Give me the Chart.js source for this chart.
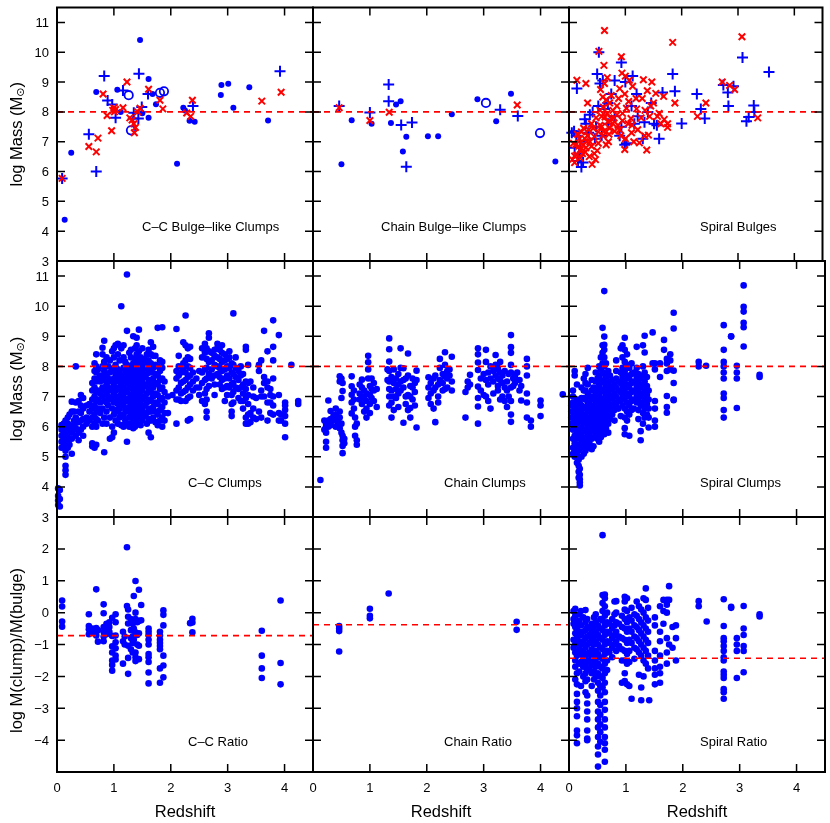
<!DOCTYPE html>
<html lang="en">
<head>
  <meta charset="UTF-8" />
  <title>Clump and bulge masses vs redshift</title>
  <script src="https://cdn.jsdelivr.net/npm/chart.js"></script>
  <style>
    body { margin: 0; background: #fff; }
    #wrap { position: relative; width: 830px; height: 823px; }
    #wrap canvas { position: absolute; left: 0; top: 0; }
  </style>
</head>
<body>
<div id="wrap"></div>
<script>
  // ---- data: [redshift, log value] pairs, or [redshift, [values...]] per galaxy ----
  const xTicks = [0, 1, 2, 3, 4];
  const massTicks = [3, 4, 5, 6, 7, 8, 9, 10, 11];
  const ratioTicks = [-4, -3, -2, -1, 0, 1, 2];
  const refLevels = [[8, 8, 8], [8, 8, 8], [-0.72, -0.38, -1.43]];

  const ccBulgeDots = [[0.135,4.38],[0.25,6.63],[0.69,8.67],[1.06,8.74],[1.12,8.0],[1.46,10.41],[1.61,9.1],[1.61,7.8],
    [1.74,8.26],[1.68,8.6],[1.5,7.95],[2.11,6.26],[2.22,8.14],[2.25,8.05],[2.33,7.7],[2.42,7.67],[2.88,8.57],
    [2.89,8.9],[3.01,8.94],[3.1,8.14],[3.38,8.83],[3.71,7.71]];
  const ccBulgePlus = [[0.09,5.77],[0.56,7.25],[0.69,6.0],[0.83,9.2],[0.89,8.38],[0.97,8.25],[1.03,7.8],[1.16,8.72],
    [1.34,7.78],[1.35,7.97],[1.44,9.28],[1.43,7.78],[1.49,8.16],[1.6,8.6],[2.39,8.2],[3.92,9.36]];
  const ccBulgeCross = [[0.09,5.77],[0.56,6.84],[0.69,6.66],[0.72,7.12],[0.81,8.6],[0.88,7.88],[0.96,7.37],[1.0,8.14],
    [1.01,8.0],[0.98,8.05],[1.03,8.08],[1.16,8.14],[1.23,9.0],[1.28,7.8],[1.32,7.73],[1.35,7.6],[1.36,7.3],
    [1.38,7.48],[1.42,8.0],[1.46,8.12],[1.61,8.76],[1.81,8.39],[1.86,8.1],[2.28,7.96],[2.35,7.85],[2.38,8.39],
    [3.6,8.36],[3.94,8.66]];
  const ccBulgeRing = [[1.26,8.56],[1.3,7.38],[1.81,8.64],[1.88,8.69]];

  const chainBulgeDots = [[0.5,6.24],[0.68,7.72],[1.03,7.6],[1.37,7.63],[1.46,8.25],[1.54,8.36],[1.64,7.17],[1.58,6.67],
    [2.02,7.18],[2.2,7.18],[2.44,7.92],[2.89,8.42],[3.22,7.69],[3.48,8.61],[4.26,6.34]];
  const chainBulgePlus = [[0.46,8.2],[1.0,7.98],[1.33,8.92],[1.33,8.36],[1.55,7.56],[1.74,7.64],[1.64,6.16],[3.29,8.07],[3.6,7.86]];
  const chainBulgeCross = [[0.46,8.14],[1.0,7.71],[1.34,7.99],[3.59,8.23]];
  const chainBulgeRing = [[3.04,8.3],[3.99,7.29]];

  const spiralBulgeCross = [[0.63,10.73],[0.53,10.03],[1.84,10.33],[3.07,10.52],[0.93,9.85],[0.62,9.56],[0.14,9.06],[0.3,8.95],
    [0.94,9.3],[1.0,9.2],[1.07,9.06],[1.13,8.86],[1.32,9.08],[1.47,9.0],[1.39,8.71],[1.54,8.62],[1.68,8.52],[1.5,8.3],
    [1.88,8.3],[2.72,9.0],[2.85,8.89],[2.94,8.75],[2.43,8.3],[3.35,7.8],[2.28,7.85],[0.33,8.3],[0.1,6.52],[0.2,6.73],
    [0.25,6.9],[0.29,6.65],[0.17,6.85],[0.41,6.24],[0.47,6.4],[0.31,7.0],[0.52,6.95],[0.66,6.9],[0.71,7.25],[0.81,7.35],
    [0.99,6.74],[1.25,6.96],[1.38,6.72],[1.34,7.2],[1.41,7.22],[1.75,7.48],[1.63,7.6],[1.05,7.6],[1.11,7.3],[1.22,7.4],
    [0.87,7.55],[0.75,7.77],[0.61,8.16],[0.55,8.05],[0.64,7.83],[0.69,7.67],[0.58,7.5],[0.52,7.33],[0.45,7.17],[0.37,7.0],
    [0.28,7.11],[0.22,7.33],[1.02,8.12],[1.1,7.78],[1.28,7.8],[1.43,7.85],[1.57,7.85],[1.69,7.75],[1.75,7.6],[1.19,8.45],
    [0.99,8.6],[0.9,8.78],[0.6,8.5],[0.66,8.4],[0.56,8.75],[0.63,8.95],[0.68,9.15],[0.78,8.05],[0.85,8.2],[0.95,7.95],
    [1.2,8.1],[1.35,8.05],[0.4,7.6],[0.35,7.4],[0.18,7.1],[0.12,6.9],[0.48,7.8],[0.72,8.3],[0.8,7.8],[0.9,7.4],[1.0,7.1],
    [1.15,7.0],[0.7,7.0],[0.6,7.2],[0.45,6.6],[0.36,6.5],[0.08,6.95],[1.6,7.95],[1.3,8.45],[1.45,8.2],[1.06,8.35],
    [0.88,8.45],[0.75,8.55],[0.06,6.4],[0.1,6.3],[0.14,6.55],[0.2,6.45],[0.24,6.6],[0.3,6.8],[0.15,7.25],[0.26,7.45],
    [0.33,7.2],[0.4,6.85],[0.5,6.7],[0.55,7.55],[0.62,7.35],[0.68,7.95],[0.78,7.6],[0.85,7.9],[0.95,7.7],[0.92,7.2],
    [0.43,7.45],[0.58,7.85],[0.72,7.45],[1.12,7.55]];
  const spiralBulgePlus = [[0.53,10.0],[0.93,9.66],[3.08,9.82],[3.55,9.34],[1.84,9.27],[0.5,9.27],[0.6,9.05],[0.81,9.05],
    [1.13,9.2],[1.0,9.0],[0.14,8.78],[0.55,8.95],[1.88,8.69],[1.66,8.65],[2.27,8.6],[2.74,8.9],[2.92,8.86],[2.82,8.65],
    [2.83,8.2],[3.28,8.21],[3.29,8.0],[3.19,7.83],[3.15,7.69],[2.41,7.78],[2.34,8.1],[2.0,7.61],[1.6,7.1],[1.51,7.6],
    [1.56,7.55],[1.02,6.95],[0.99,6.9],[0.22,6.15],[0.16,6.35],[0.09,7.35],[0.13,7.2],[0.28,7.75],[0.37,7.9],[0.52,8.2],
    [0.63,8.1],[0.69,8.3],[0.81,7.85],[0.93,7.5],[1.11,8.2],[1.22,7.85],[1.34,7.65],[1.46,8.3],[1.31,7.1],[0.46,7.1],
    [0.58,7.2],[0.9,7.2],[1.16,7.6],[0.2,7.0],[0.35,7.3],[0.75,8.6],[1.2,8.6],[0.42,8.0],[0.7,7.6],[1.4,8.0],
    [0.05,7.3],[0.1,6.8],[0.18,6.6],[0.25,6.3],[0.3,7.6],[0.48,7.5]];

  const ccClumps = [
    [0.02,[3.4,3.55,3.7,3.95]],[0.05,[3.35,3.6,3.9]],[0.08,[5.3,5.5,5.7,5.9,6.05]],[0.12,[5.35,5.6,5.8,6.0,6.1]],
    [0.15,[4.4,4.55,4.7,5.0,5.2,5.5,5.75,5.95,6.2]],[0.19,[5.3,5.45,5.65,5.9,6.1,6.3]],[0.22,[5.4,5.6,5.85,6.05,6.4]],
    [0.26,[5.1,5.6,5.8,6.0,6.5,6.83]],[0.30,[5.9,6.05,6.2,6.5]],[0.33,[5.7,5.95,6.3,6.8,8.0]],[0.38,[5.55,5.8,6.15,6.5,6.85]],
    [0.42,[5.9,6.2,6.45,6.7,7.05]],[0.46,[5.7,6.0,6.25,6.6,6.95]],[0.52,[6.1,6.3,6.7]],[0.57,[6.2,6.5,6.75]],
    [0.62,[5.35,5.45,6.0,6.3,6.6,6.9,7.2,7.45]],[0.66,[5.3,6.1,6.4,6.7,7.0,7.3,7.6,7.85,8.1]],
    [0.69,[5.4,6.0,6.25,6.55,6.85,7.15,7.5,7.8,8.0,8.4]],[0.72,[6.2,6.6,6.9,7.2,7.6,7.9]],[0.76,[6.45,6.8,7.1,7.5,7.7]],
    [0.80,[6.1,6.6,7.0,7.3,7.65,8.0,8.4,8.62]],[0.83,[5.15,6.3,6.85,7.2,7.55,7.85,8.15,8.85]],
    [0.87,[6.1,6.5,6.8,7.1,7.4,7.7,8.3]],[0.90,[6.7,7.0,7.3,7.6,8.0]],[0.93,[5.6,6.3,6.9,7.2,7.5,7.8,8.2]],
    [0.97,[5.65,6.0,6.6,6.95,7.25,7.55,7.9,8.5]],[1.00,[5.8,6.4,6.8,7.1,7.35,7.6,7.95,8.3,8.6]],
    [1.03,[6.2,6.55,6.9,7.2,7.5,7.75,8.05,8.7]],[1.07,[6.1,6.5,6.75,7.0,7.3,7.6,7.9,8.4,8.75]],
    [1.10,[6.3,6.6,6.95,7.25,7.5,7.8,8.2]],[1.13,[6.05,6.4,6.8,7.1,7.4,7.7,8.6,10.0]],
    [1.17,[6.0,6.35,6.7,7.0,7.3,7.6,7.95,8.3,8.7]],[1.20,[6.2,6.55,6.9,7.2,7.55,7.85,8.15]],
    [1.23,[5.5,6.1,6.5,6.85,7.15,7.45,7.75,8.05,9.18,11.05]],[1.27,[6.0,6.3,6.65,6.95,7.3,7.6,7.9,8.45]],
    [1.30,[6.1,6.45,6.75,7.05,7.4,7.7,8.0,8.3,8.55]],[1.34,[5.95,6.25,6.6,6.9,7.2,7.5,7.8,8.1,9.0]],
    [1.37,[6.0,6.35,6.7,7.0,7.35,7.65,7.95,8.25,8.6]],[1.40,[6.15,6.5,6.8,7.1,7.45,7.75,8.05,8.4,8.7,8.95]],
    [1.44,[6.3,6.6,6.95,7.25,7.55,7.85,8.2,8.5,9.22]],[1.47,[6.05,6.4,6.75,7.05,7.35,7.7,8.0,8.3]],
    [1.50,[6.2,6.55,6.9,7.2,7.5,7.8,8.1,8.6]],[1.54,[6.35,6.7,7.0,7.35,7.65,7.95,8.25]],
    [1.58,[6.1,6.45,6.8,7.1,7.4,7.75,8.05,8.4]],[1.61,[5.8,6.25,6.6,6.9,7.25,7.55,7.9,8.2,8.55]],
    [1.65,[5.65,6.2,6.5,6.85,7.15,7.45,7.8,8.1,8.4,8.8]],[1.69,[6.3,6.65,7.0,7.3,7.6,7.95,8.35,8.65]],
    [1.73,[6.15,6.5,6.8,7.1,7.45,7.75,8.05,8.35]],[1.77,[6.05,6.4,6.75,7.05,7.4,7.7,8.0,9.28]],
    [1.81,[6.2,6.55,6.9,7.25,7.55,7.85,8.2]],[1.85,[6.0,6.3,6.65,6.95,7.3,7.6,7.95,8.15,9.3]],
    [1.89,[6.2,6.45,6.8,7.15,7.5]],[1.95,[6.45,7.0]],[2.03,[7.05]],[2.10,[6.1,6.9,7.2,7.6,7.85,9.24]],
    [2.14,[6.9,7.3,7.7,8.0,8.35]],[2.18,[6.85,7.1,7.45,7.8]],[2.22,[7.15,7.5,7.9,8.1,8.8]],
    [2.26,[6.85,7.2,7.55,7.8,8.2,8.7,9.69]],[2.30,[6.2,6.95,7.3,7.65,8.0,8.3,8.6]],
    [2.34,[6.25,7.0,7.4,7.7,7.95,8.25,8.65]],[2.39,[7.2,7.5,7.8]],[2.45,[7.3,7.6]],[2.50,[7.05,7.3,7.85]],
    [2.55,[6.85,7.45,7.8,8.3,8.6]],[2.60,[6.75,7.1,7.55,7.9,8.45,8.75]],[2.63,[6.3,6.5,6.9,7.25,7.6,7.95,8.25,8.6]],
    [2.67,[7.35,7.75,8.15,8.5,8.95,9.1]],[2.72,[7.6,7.9,8.2,8.45]],[2.77,[7.05,7.4,7.7,8.05,8.35,8.55]],
    [2.82,[7.75,8.0,8.3,8.6,8.75]],[2.86,[7.4,7.65,7.95,8.25,8.55]],[2.90,[7.25,7.55,7.85,8.15,8.45,8.7]],
    [2.95,[6.85,7.3,7.6,7.9,8.2,8.4]],[2.99,[7.05,7.35,7.7,8.0,8.25]],[3.03,[7.3,7.6,7.95,8.3,8.5]],
    [3.07,[6.35,6.5,6.75,7.05,7.4,7.8,8.1]],[3.10,[6.8,7.15,7.45,7.75,8.05,9.76]],[3.14,[7.3,7.65,7.95,8.3]],
    [3.19,[6.95,7.25,7.55,7.85]],[3.23,[6.85,7.3,7.7,8.0]],[3.27,[6.6,6.85,7.1,7.4,7.75]],
    [3.32,[6.1,6.3,6.95,7.25,7.5,8.55,8.65]],[3.36,[6.1,6.4,6.75,7.05,7.45,8.05]],[3.40,[6.15,6.45,7.5]],
    [3.45,[6.3,6.6,7.0,7.3]],[3.50,[6.25,6.95]],[3.55,[6.5,7.85,8.05]],[3.59,[6.3,7.0,7.2,8.2]],
    [3.64,[7.0,7.45,7.65,9.18]],[3.70,[6.2,6.8,7.3,7.5,8.5]],[3.75,[6.45,6.8,7.05,7.25]],
    [3.80,[6.4,6.7,7.0,7.6,8.2,8.65,9.53]],[3.90,[6.2,6.45,7.05,9.04]],[3.94,[6.2,6.4]],
    [4.01,[5.65,6.1,6.35,6.55,6.7,6.8]],[4.12,[8.05]],[4.24,[6.75,6.85]]];

  const chainClumps = [
    [0.13,[4.23]],[0.20,[6.2,5.9]],[0.23,[6.1,6.0,5.8,5.5,5.3]],[0.27,[6.87,6.2,6.0]],[0.31,[6.52,6.25,6.05]],
    [0.36,[6.2,6.35]],[0.40,[6.6,6.4,6.0]],[0.44,[6.25,6.15]],[0.47,[7.67,7.5,6.5,6.3,5.95]],[0.50,[7.6,6.95,6.1,5.8]],
    [0.52,[7.45,7.18,5.7,5.55,5.36,5.12]],[0.55,[5.6,5.45]],[0.68,[7.67,7.34,7.06,6.8,6.44]],[0.72,[7.2,6.9,6.6]],
    [0.74,[5.7,6.0,6.3]],[0.77,[5.4,5.55,6.1]],[0.82,[7.4,7.1,6.9]],[0.86,[7.56,7.3,7.0,6.75]],[0.90,[7.2,6.95,6.5]],
    [0.94,[6.3,6.6,6.85,7.1]],[0.97,[8.35,8.14,7.9,7.6]],[1.00,[7.35,7.05,6.75,6.45]],[1.03,[7.6,7.25,6.95]],
    [1.07,[7.45,7.2,6.85]],[1.12,[7.25,6.65]],[1.31,[7.9,7.55]],[1.34,[8.93,8.57,8.16,7.85,7.5,7.25,7.0,6.7]],
    [1.38,[7.65,7.2,6.8,6.3]],[1.42,[7.9,7.45,7.0,6.55]],[1.46,[7.6,7.25,6.95]],[1.50,[7.75,7.4,7.1,6.65]],
    [1.54,[8.6,7.95,7.5,7.2]],[1.59,[7.94,7.55,7.3,6.13]],[1.63,[7.6,7.0,6.75]],[1.67,[8.43,7.7,7.05,6.55]],
    [1.71,[7.35,7.0,6.62,6.3]],[1.75,[7.6,7.3,6.9]],[1.79,[7.45,7.15,6.7]],[1.82,[7.86,7.55,5.97]],
    [2.03,[7.64,7.3,6.95]],[2.07,[7.45,7.1,6.75]],[2.12,[7.6,7.2,6.6]],[2.15,[7.7,7.3,6.15]],[2.20,[7.4,7.0,6.8]],
    [2.23,[8.25,7.95,7.55]],[2.28,[7.75,7.45,7.2]],[2.32,[8.47,8.05,7.66,7.25]],[2.36,[7.85,7.6,7.3]],
    [2.40,[7.9,7.7]],[2.44,[8.32,7.5,7.2]],[2.68,[7.15,6.3]],[2.72,[7.5,7.3]],[2.76,[7.72,7.4]],
    [2.90,[8.6,8.4,8.13,7.88,7.33,6.95,6.67,6.1]],[2.95,[7.6,7.2]],[3.00,[7.75,7.05]],[3.04,[8.55,8.15,7.55,7.0]],
    [3.08,[7.8,7.4,6.85]],[3.12,[8.0,7.6,6.6]],[3.17,[7.85,7.5,7.1]],[3.21,[8.38,8.05,7.9,7.7]],
    [3.25,[7.95,7.6,7.35,7.2]],[3.29,[8.15,7.8,7.55,6.9]],[3.33,[7.7,7.45,7.0]],[3.37,[7.85,7.3,6.85]],
    [3.41,[7.5,7.2,6.65]],[3.44,[7.75,7.0]],[3.48,[9.04,8.64,8.45,8.05,7.8,7.3,6.85,6.4,6.16]],[3.52,[7.6,7.35]],
    [3.55,[7.7,7.45]],[3.59,[7.8,7.55]],[3.63,[7.55,7.2]],[3.66,[6.87,7.35]],[3.76,[8.25,8.0,7.7,7.1,6.8,6.3]],
    [3.83,[6.2,6.0]],[4.00,[6.87,6.7,6.35]],[4.39,[7.07]]];

  const spiralClumps = [
    [0.04,[6.7,6.5,6.3,6.1]],[0.07,[5.9,5.6,5.3,5.1,6.8,7.0,7.2]],[0.10,[7.85,7.7,6.6,6.4,6.15,5.95,5.7,5.45,5.2,5.0]],
    [0.14,[7.4,6.9,6.7,6.5,6.3,6.1,5.85,5.6,5.35,5.05,4.8]],[0.17,[6.85,6.6,6.35,6.15,5.9,5.65,5.4,5.2,4.9,4.7,4.5,4.3]],
    [0.19,[4.05,4.15,4.25,4.4,4.6,5.8,6.2,6.8]],[0.22,[7.3,6.95,6.7,6.45,6.2,5.95,5.7,5.5,5.3,5.0]],
    [0.26,[7.6,7.2,6.95,6.6,6.35,6.1,5.85,5.6,5.4,5.1]],[0.29,[7.75,7.45,7.2,6.9,6.65,6.4,6.15,5.9,5.65,5.4,5.2]],
    [0.33,[7.95,7.4,7.1,6.8,6.55,6.3,6.05,5.8,5.55,5.3]],[0.36,[7.0,6.75,6.5,6.2,5.95,5.7,5.45]],
    [0.40,[7.55,7.2,6.9,6.6,6.35,6.1,5.85,5.6,5.25]],[0.43,[7.3,7.0,6.7,6.45,6.2,5.95,5.65,5.35]],
    [0.47,[7.8,7.5,7.15,6.85,6.55,6.3,6.05,5.75]],[0.50,[7.6,7.25,6.95,6.65,6.4,6.15,5.9,5.6]],
    [0.53,[8.0,7.7,7.4,7.1,6.8,6.5,6.25,6.0,5.75,5.5]],[0.56,[8.3,7.9,7.55,7.25,6.95,6.7,6.45,6.2,5.95,5.65]],
    [0.59,[9.28,8.7,8.45,8.1,7.8,7.5,7.2,6.9,6.6,6.35,6.05,5.8]],
    [0.62,[10.5,8.99,8.72,8.55,8.3,8.0,7.75,7.45,7.15,6.85,6.55,6.3,6.05,5.75]],
    [0.65,[8.1,7.6,7.3,7.0,6.7,6.45,6.2,5.95]],[0.69,[7.85,7.5,7.2,6.9,6.6,6.35,6.1,5.8]],
    [0.72,[7.7,7.35,7.05,6.75,6.5,6.25]],[0.76,[7.55,7.25,6.95,6.65,6.4]],[0.80,[7.4,7.1,6.8,6.55,6.2]],
    [0.83,[8.2,7.85,7.6,7.3,7.0,6.75]],[0.87,[7.5,7.2,6.9,6.6]],[0.91,[8.6,7.8,7.45,7.15,6.85,6.35]],
    [0.94,[8.7,8.3,7.95,7.65,7.35,7.05,6.7]],[0.98,[8.95,8.55,8.15,7.85,7.55,7.25,6.95,6.6,6.3,5.95,5.75]],
    [1.02,[8.4,8.05,7.7,7.4,7.1,6.8,6.5,6.2]],[1.06,[7.95,7.6,7.3,7.0,6.7,6.4,5.7]],
    [1.10,[8.1,7.75,7.45,7.15,6.85,6.55]],[1.14,[7.8,7.5,7.2,6.9,6.6]],[1.19,[8.65,7.95,7.65,7.35,7.05,6.8]],
    [1.22,[7.75,7.45,7.15,6.85,6.55,6.25]],[1.26,[7.6,7.3,7.0,6.7,5.85,5.55]],
    [1.30,[8.7,8.0,7.7,7.4,7.1,6.8,6.45,6.1]],[1.33,[9.02,8.46,7.8,7.5,7.2,6.9,6.6,6.3]],
    [1.37,[7.65,7.35,7.05,6.75,6.4]],[1.40,[7.2,6.9,6.6,6.3,5.97]],[1.47,[9.13,8.1]],
    [1.51,[8.1,7.9,6.85,6.6,6.2,6.0]],[1.60,[8.1,7.65]],[1.67,[8.88,8.55]],[1.72,[8.25,8.1,7.85,7.02,6.65,6.46]],
    [1.78,[8.4,8.2,7.9]],[1.84,[9.78,9.26,7.86,7.45,6.9,6.88]],[2.28,[8.15,8.0]],[2.41,[8.02]],
    [2.72,[9.37,8.55,8.15,8.0,7.8,7.6,7.1,6.95,6.55,6.3]],[2.85,[8.99,9.0]],[2.95,[8.02,7.8,7.6,6.62]],
    [3.07,[10.69,9.98,9.82,9.45,9.3,8.66]],[3.35,[7.72,7.65]]];

  const ccRatio = [
    [0.09,[0.38,0.19,-0.28,-0.44]],[0.56,[-0.05,-0.42,-0.52,-0.68]],[0.62,[-0.5,-0.62]],[0.69,[0.73,-0.48,-0.6,-0.72]],
    [0.72,[-0.91,-0.55]],[0.82,[0.26,-0.02,-0.45,-0.6,-0.75,-0.9]],[0.87,[-0.35,-0.52,-0.68]],[0.92,[-0.3,-0.45,-0.6]],
    [0.97,[-0.16,-0.73,-1.06,-1.25,-1.5,-1.64,-1.82]],[1.03,[-0.05,-0.3,-0.72,-0.93,-1.12,-1.35,-1.47]],
    [1.16,[-0.6,-0.9,-1.6]],[1.19,[-0.75,-1.0]],[1.23,[2.05,0.21]],[1.25,[0.1,-0.13,-0.34,-1.04,-1.42,-1.92]],
    [1.30,[-0.2,-0.55,-0.8,-1.15]],[1.33,[-0.35,-0.55,-0.75,-0.95,-1.25]],[1.35,[0.52,-0.5,-0.85]],
    [1.38,[0.99,0.0,-0.2,-0.62,-1.25,-1.52,-1.4]],[1.41,[-0.3,-0.7,-1.0]],[1.44,[0.72,-0.26,-0.65,-1.04,-1.46]],
    [1.48,[0.24,-0.24]],[1.61,[-0.5,-0.6,-0.7,-0.85,-1.0,-1.3,-1.4,-1.55,-1.88,-2.22]],
    [1.81,[-0.6,-0.72,-0.85,-0.95,-1.05,-1.15,-1.75,-2.2]],[1.87,[0.07,-0.07,-0.4,-1.35,-1.66,-2.03]],
    [2.34,[-0.33]],[2.38,[-0.19,-0.31,-0.62]],[3.60,[-0.57,-1.35,-1.75,-2.05]],[3.93,[0.38,-1.58,-2.25]]];

  const chainRatio = [[0.46,[-0.42,-0.5,-0.58,-1.22]],[1.0,[0.12,-0.1,-0.18]],[1.33,[0.6]],[3.58,[-0.29,-0.54]]];

  const spiralRatio = [
    [0.08,[0.05,-0.2,-0.35,-0.85,-1.1]],[0.11,[0.12,-0.1,-0.45,-0.65,-1.0,-1.25,-1.5,-1.7,-2.1]],
    [0.14,[-0.3,-0.55,-0.8,-1.35,-1.9,-2.25,-2.55,-2.8,-3.0,-3.25,-3.7,-3.85,-4.1]],
    [0.18,[-0.05,-0.25,-0.6,-0.9,-1.15,-1.6,-1.85]],[0.21,[0.05,-0.4,-0.7,-1.0,-1.3,-1.55,-2.3]],
    [0.25,[-0.15,-0.6,-0.9,-1.2,-1.45,-1.7,-2.0]],[0.29,[0.08,-0.3,-0.55,-0.8,-1.1,-1.4,-1.65,-1.9,-2.15,-2.5]],
    [0.32,[-0.2,-0.45,-0.75,-1.0,-1.3,-1.55,-1.8,-2.1,-2.6,-2.85,-3.1,-3.35,-3.7,-3.95,-4.0]],
    [0.36,[-0.5,-0.7,-0.95,-1.25,-1.5,-1.75]],[0.40,[-0.35,-0.6,-0.85,-1.15,-1.4,-1.65,-1.9,-2.3]],
    [0.44,[-0.15,-0.45,-0.75,-1.0,-1.3,-1.55,-1.85,-2.1]],[0.47,[-0.05,-0.3,-0.6,-0.9,-1.2,-1.45,-1.7,-2.0]],
    [0.51,[-0.4,-0.7,-1.0,-1.3,-1.6,-1.9,-2.2,-2.45,-2.8,-3.1,-3.35,-3.6,-3.9,-4.2,-4.45,-4.83]],
    [0.55,[-0.2,-0.5,-0.8,-1.1,-1.4,-1.7,-2.0,-2.3,-2.6,-2.9,-3.2,-3.5,-3.75,-4.05]],
    [0.59,[2.43,0.55,0.3,0.05,-0.25,-0.55,-0.85,-1.15,-1.45,-1.75,-2.05,-2.35]],
    [0.63,[0.57,0.45,0.2,-0.1,-0.4,-0.7,-1.0,-1.3,-1.6,-1.9,-2.2,-2.5,-2.8,-3.05,-3.35,-3.6,-3.9,-4.1,-4.3,-4.68]],
    [0.67,[0.0,-0.3,-0.6,-0.9,-1.2,-1.5,-1.8]],[0.71,[-0.35,-0.65,-0.95,-1.25]],[0.76,[-0.2,-0.5,-0.8,-1.1,-1.4]],
    [0.80,[0.35,-0.05,-0.4,-0.7,-1.0]],[0.83,[0.36,0.0,-0.3,-0.6,-0.9,-1.2]],[0.88,[-0.35,-0.75,-1.05]],
    [0.93,[-0.1,-0.45,-0.8,-1.15,-1.5,-2.2]],[0.98,[0.5,0.35,0.1,-0.2,-0.5,-0.85,-1.2,-1.5,-1.9,-2.15]],
    [1.02,[0.45,0.05,-0.3,-0.6,-0.95,-1.3,-1.6,-2.25]],[1.06,[-0.15,-0.5,-0.85,-1.2,-1.55,-2.3]],
    [1.10,[0.15,-0.25,-0.6,-0.95,-2.7]],[1.15,[-0.05,-0.4,-0.75,-1.1,-1.45]],[1.19,[0.35,-0.1,-0.45,-0.8,-1.15]],
    [1.23,[0.2,-0.2,-0.55,-0.9,-1.25,-1.95]],[1.27,[0.1,-0.3,-0.65,-1.0,-1.35,-2.35,-2.75]],
    [1.31,[0.45,0.0,-0.4,-0.75,-1.1,-1.5,-2.0]],[1.35,[0.76,0.4,-0.15,-0.5,-0.85,-1.2,-1.6]],
    [1.39,[0.15,-0.25,-0.6,-0.95,-1.35,-1.75]],[1.41,[-2.75]],[1.51,[-0.15,-0.4,-1.2,-1.5,-1.75,-1.95,-2.25]],
    [1.60,[0.2,-0.6,-0.9,-1.35,-1.7,-1.9,-2.2]],[1.66,[0.4,0.05,-0.35]],[1.72,[0.4,0.25,0.0,-0.8,-1.25,-1.6]],
    [1.76,[0.83,0.4,-1.0]],[1.82,[-0.45,-1.1]],[1.88,[-0.4,-0.8,-1.5]],[2.28,[0.36,0.2]],[2.42,[-0.28]],
    [2.72,[0.42,-0.42,-0.8,-0.9,-1.05,-1.2,-1.4,-1.5,-1.85,-1.95,-2.05,-2.4,-2.5,-2.7]],[2.85,[0.18,0.15]],
    [2.95,[-0.8,-1.0,-1.2,-2.05]],[3.07,[0.21,-0.5,-0.7,-1.05,-1.2,-1.87]],[3.35,[-0.05,-0.12]]];

  // ---- helpers ----
  const BLUE = '#0000ff', RED = '#ff0000';
  const FONT = '"Liberation Sans", Arial, Helvetica, sans-serif';
  const W = 830, H = 823;
  const colEdges = [[57, 313], [313, 569], [569, 825]];
  const rowEdges = [[5, 261], [261, 517], [517, 772]];

  const pairs = arr => arr.map(([x, y]) => ({ x, y }));
  const groups = arr => arr.flatMap(([x, vs]) => vs.map(y => ({ x, y })));

  const dots = (data, r = 3.3) => ({ data, pointStyle: 'circle', pointRadius: r, backgroundColor: BLUE, borderWidth: 0 });
  const plus = data => ({ data, pointStyle: 'cross', pointRadius: 5.5, borderColor: BLUE, borderWidth: 2 });
  const xmark = data => ({ data, pointStyle: 'crossRot', pointRadius: 4.6, borderColor: RED, borderWidth: 2 });
  const ring = data => ({ data, pointStyle: 'circle', pointRadius: 4.2, backgroundColor: 'rgba(0,0,0,0)', borderColor: BLUE, borderWidth: 1.8 });
  const refLine = y => ({
    type: 'line', data: [{ x: 0, y }, { x: 4.5, y }], borderColor: RED, borderWidth: 1.6,
    borderDash: [6, 5], pointRadius: 0, fill: false
  });

  const panels = [
    { row: 0, col: 0, label: 'C–C Bulge–like Clumps', lx: 142,
      sets: [xmark(pairs(ccBulgeCross)), plus(pairs(ccBulgePlus)), ring(pairs(ccBulgeRing)), dots(pairs(ccBulgeDots), 3)] },
    { row: 0, col: 1, label: 'Chain Bulge–like Clumps', lx: 381,
      sets: [xmark(pairs(chainBulgeCross)), plus(pairs(chainBulgePlus)), ring(pairs(chainBulgeRing)), dots(pairs(chainBulgeDots), 3)] },
    { row: 0, col: 2, label: 'Spiral Bulges', lx: 700,
      sets: [xmark(pairs(spiralBulgeCross)), plus(pairs(spiralBulgePlus))] },
    { row: 1, col: 0, label: 'C–C Clumps', lx: 188, sets: [dots(groups(ccClumps))] },
    { row: 1, col: 1, label: 'Chain Clumps', lx: 444, sets: [dots(groups(chainClumps))] },
    { row: 1, col: 2, label: 'Spiral Clumps', lx: 700, sets: [dots(groups(spiralClumps))] },
    { row: 2, col: 0, label: 'C–C Ratio', lx: 188, sets: [dots(groups(ccRatio))] },
    { row: 2, col: 1, label: 'Chain Ratio', lx: 444, sets: [dots(groups(chainRatio))] },
    { row: 2, col: 2, label: 'Spiral Ratio', lx: 700, sets: [dots(groups(spiralRatio))] }
  ];

  const fmt = v => (v < 0 ? '\u2212' + Math.abs(v) : String(v));

  // frame, inward ticks, tick labels, titles and panel label
  const framePlugin = {
    id: 'frame',
    afterDraw(chart, args, o) {
      const { ctx, chartArea: a, scales: { x, y } } = chart;
      const yTicks = o.row === 2 ? ratioTicks : massTicks;
      ctx.save();
      ctx.strokeStyle = '#000';
      ctx.lineWidth = 1.5;
      ctx.beginPath();
      xTicks.forEach(t => {
        const px = x.getPixelForValue(t);
        ctx.moveTo(px, a.top); ctx.lineTo(px, a.top + 8);
        ctx.moveTo(px, a.bottom); ctx.lineTo(px, a.bottom - 8);
      });
      yTicks.forEach(t => {
        const py = y.getPixelForValue(t);
        ctx.moveTo(a.left, py); ctx.lineTo(a.left + 8, py);
        ctx.moveTo(a.right, py); ctx.lineTo(a.right - 8, py);
      });
      ctx.stroke();
      ctx.lineWidth = 2;
      ctx.strokeRect(a.left, a.top, a.right - a.left, a.bottom - a.top);

      ctx.fillStyle = '#000';
      ctx.font = '13px ' + FONT;
      if (o.col === 0) {
        ctx.textAlign = 'right';
        ctx.textBaseline = 'middle';
        yTicks.forEach(t => ctx.fillText(fmt(t), a.left - 8, y.getPixelForValue(t) + 1));
        // y axis title
        const cy = (a.top + a.bottom) / 2 + (o.row === 2 ? 6 : 0);
        ctx.save();
        ctx.translate(17, cy);
        ctx.rotate(-Math.PI / 2);
        ctx.textAlign = 'left';
        const big = '16.5px ' + FONT, small = '11px "DejaVu Sans", ' + FONT;
        const parts = o.row === 2 ? [['log M(clump)/M(bulge)', big, 0]]
          : [['log Mass (M', big, 0], ['\u2299', small, 4], [')', big, 0]];
        let total = 0;
        parts.forEach(p => { ctx.font = p[1]; total += ctx.measureText(p[0]).width; });
        let px = -total / 2;
        parts.forEach(p => { ctx.font = p[1]; ctx.fillText(p[0], px, p[2]); px += ctx.measureText(p[0]).width; });
        ctx.restore();
      }
      if (o.row === 2) {
        ctx.textAlign = 'center';
        ctx.textBaseline = 'middle';
        xTicks.forEach(t => ctx.fillText(fmt(t), x.getPixelForValue(t), a.bottom + 16));
        ctx.font = '16.5px ' + FONT;
        ctx.fillText('Redshift', (a.left + a.right) / 2, a.bottom + 40);
      }
      ctx.font = '13px ' + FONT;
      ctx.textAlign = 'left';
      ctx.textBaseline = 'middle';
      ctx.fillText(o.label, o.lx, a.bottom - (o.row === 2 ? 30 : 34));
      ctx.restore();
    }
  };

  const wrap = document.getElementById('wrap');
  panels.forEach(p => {
    const [l, r] = colEdges[p.col];
    const [t, b] = rowEdges[p.row];
    const canvas = document.createElement('canvas');
    canvas.width = W;
    canvas.height = H;
    wrap.appendChild(canvas);
    const datasets = [refLine(refLevels[p.row][p.col])].concat(p.sets).map(d => Object.assign({ clip: false }, d));
    new Chart(canvas, {
      type: 'scatter',
      data: { datasets },
      options: {
        responsive: false,
        animation: false,
        events: [],
        layout: { padding: { left: l, top: t, right: W - r, bottom: H - b } },
        scales: {
          x: { type: 'linear', display: false, min: 0, max: 4.5 },
          y: { type: 'linear', display: false, min: p.row === 2 ? -5 : 3, max: p.row === 2 ? 3 : 11.5 }
        },
        plugins: {
          legend: { display: false },
          tooltip: { enabled: false },
          frame: { row: p.row, col: p.col, label: p.label, lx: p.lx }
        }
      },
      plugins: [framePlugin]
    });
  });
</script>
</body>
</html>
